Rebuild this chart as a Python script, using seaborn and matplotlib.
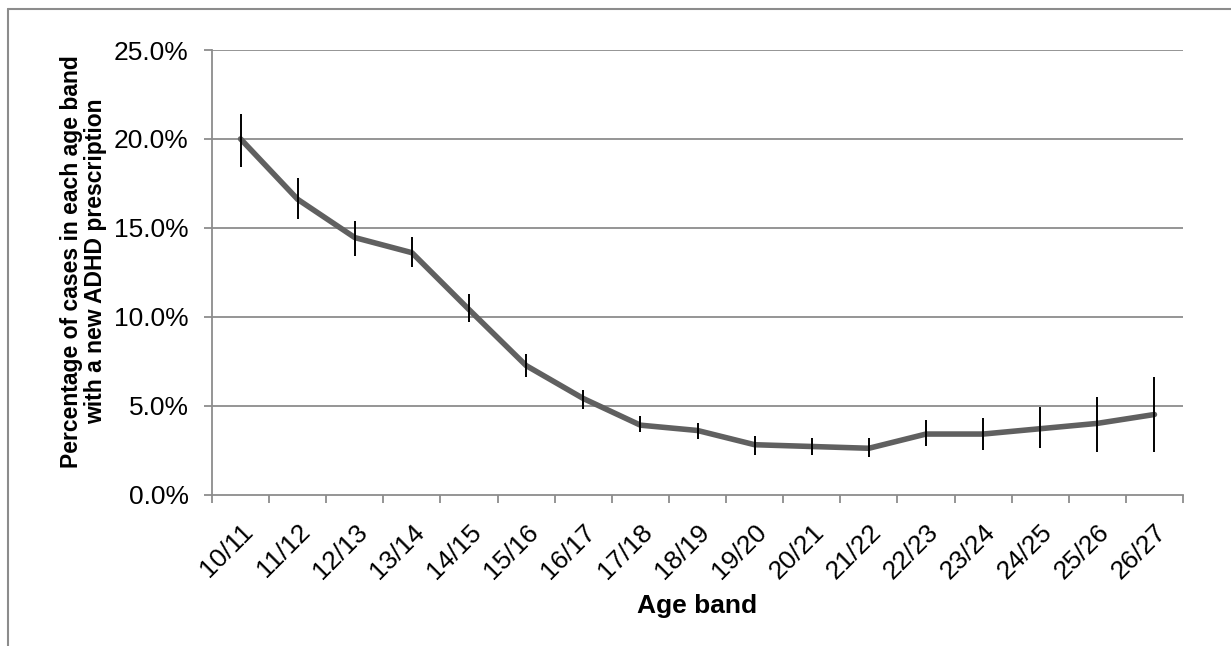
import matplotlib
matplotlib.use("Agg")
import matplotlib.pyplot as plt
import seaborn as sns
import pandas as pd
import numpy as np
from matplotlib.lines import Line2D
from matplotlib.ticker import FixedLocator, FuncFormatter

age_bands = ["10/11", "11/12", "12/13", "13/14", "14/15", "15/16", "16/17", "17/18",
             "18/19", "19/20", "20/21", "21/22", "22/23", "23/24", "24/25", "25/26", "26/27"]
pct = [20.0, 16.6, 14.45, 13.6, 10.4, 7.25, 5.4, 3.9, 3.6, 2.8, 2.7, 2.6, 3.4, 3.4, 3.7, 4.0, 4.5]
ci_low = [18.4, 15.5, 13.4, 12.8, 9.7, 6.6, 4.8, 3.5, 3.1, 2.2, 2.2, 2.1, 2.7, 2.5, 2.6, 2.4, 2.4]
ci_high = [21.4, 17.8, 15.4, 14.5, 11.3, 7.9, 5.9, 4.4, 4.0, 3.3, 3.2, 3.2, 4.2, 4.3, 4.9, 5.5, 6.6]
y_ticks = [0, 5, 10, 15, 20, 25]

df = pd.DataFrame({"band": age_bands, "pct": pct, "lo": ci_low, "hi": ci_high})

sns.set_theme(style="white")
plt.rcParams["font.family"] = ["Liberation Sans", "DejaVu Sans"]
plt.rcParams["text.color"] = "black"
plt.rcParams["axes.labelcolor"] = "black"
plt.rcParams["xtick.color"] = "black"
plt.rcParams["ytick.color"] = "black"

fig = plt.figure(figsize=(12.31, 6.46), dpi=100)
ax = fig.add_axes([212/1231, 1 - 494.5/646, (1183 - 212)/1231, (494.5 - 50)/646])

grid_col = "#8c8c8c"
for yv in y_ticks[1:]:
    ax.axhline(yv, color=grid_col, lw=1.3, zorder=0)

sns.lineplot(data=df, x="band", y="pct", ax=ax, color="#606060", lw=4,
             sort=False, zorder=3, solid_capstyle="round")
xpos = np.arange(len(age_bands))
ax.vlines(xpos, df["lo"], df["hi"], color="black", lw=1.4, zorder=4)

ax.set_xlim(-0.5, len(age_bands) - 0.5)
ax.set_ylim(0, 25)
ax.set_yticks(y_ticks)
ax.yaxis.set_major_formatter(FuncFormatter(lambda v, p: f"{v:.1f}%"))
ax.set_xticks(xpos)
ax.set_xticklabels(age_bands, rotation=45, ha="right", va="top", rotation_mode="anchor")
ax.xaxis.set_minor_locator(FixedLocator(np.arange(-0.5, len(age_bands), 1.0)))

ax.tick_params(axis="y", which="major", length=5.8, width=1.3, color=grid_col,
               labelcolor="black", labelsize=19, pad=11, left=True)
ax.tick_params(axis="x", which="major", length=0, labelsize=19, pad=18, labelcolor="black")
ax.tick_params(axis="x", which="minor", length=5.8, width=1.3, color=grid_col, bottom=True)

for s in ["top", "right"]:
    ax.spines[s].set_visible(False)
for s in ["left", "bottom"]:
    ax.spines[s].set_color(grid_col)
    ax.spines[s].set_linewidth(1.3)

ax.set_xlabel("Age band", fontsize=19, fontweight="bold", labelpad=8, color="black")
ax.set_ylabel("Percentage of cases in each age band\nwith a new ADHD prescription",
              fontsize=16.5, fontweight="bold", labelpad=5, linespacing=1.05, color="black")
ax.yaxis.label.set_y(0.525)

fig.add_artist(Line2D([8/1231, 1.0], [1 - 8.5/646, 1 - 8.5/646], color=grid_col, lw=1.5,
                      transform=fig.transFigure))
fig.add_artist(Line2D([8/1231, 8/1231], [0, 1 - 8.5/646], color=grid_col, lw=1.5,
                      transform=fig.transFigure))

fig.savefig("out.png", dpi=100)
